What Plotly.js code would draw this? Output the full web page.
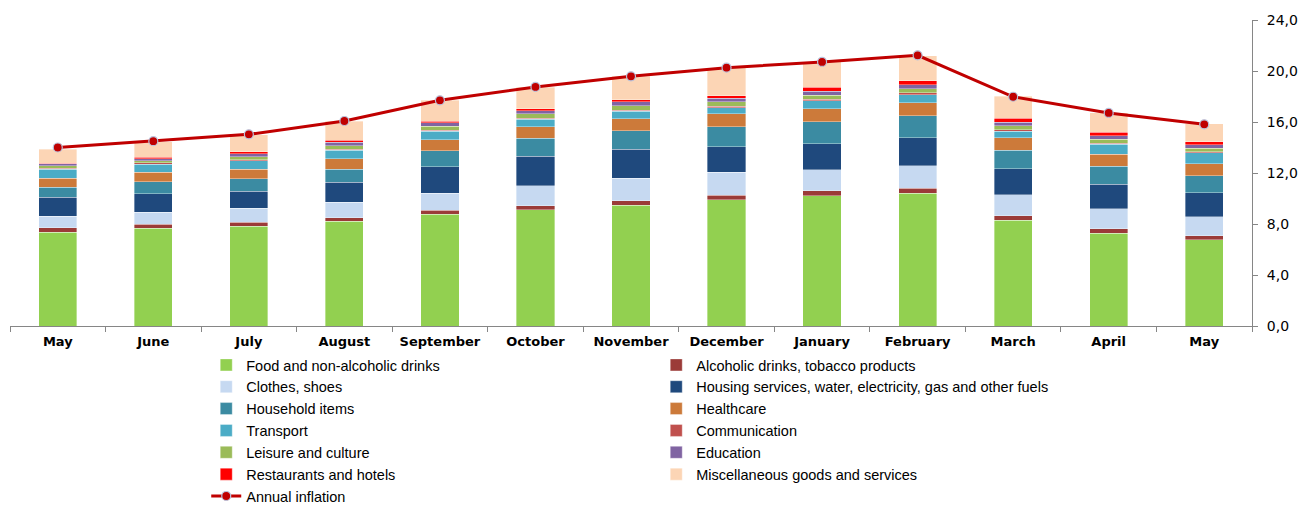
<!DOCTYPE html>
<html>
<head>
<meta charset="utf-8">
<script src="https://cdn.plot.ly/plotly-3.0.1.min.js"></script>
<style>html,body{margin:0;padding:0;background:#fff;}#chart{width:1305px;height:506px;}</style>
</head>
<body>
<div id="chart"></div>
<script>
const months = ["May", "June", "July", "August", "September", "October", "November", "December", "January", "February", "March", "April", "May"];

const food          = [7.37, 7.66, 7.84, 8.21, 8.76, 9.10, 9.49, 9.91, 10.20, 10.40, 8.31, 7.29, 6.75];
const alcohol       = [0.32, 0.31, 0.29, 0.29, 0.31, 0.34, 0.34, 0.36, 0.39, 0.40, 0.32, 0.34, 0.31];
const clothes       = [0.90, 0.97, 1.09, 1.20, 1.36, 1.56, 1.75, 1.78, 1.67, 1.75, 1.67, 1.55, 1.51];
const housing       = [1.50, 1.44, 1.34, 1.57, 2.07, 2.33, 2.28, 1.99, 2.04, 2.22, 2.04, 1.94, 1.88];
const household     = [0.78, 0.94, 0.97, 1.04, 1.25, 1.39, 1.47, 1.59, 1.73, 1.73, 1.44, 1.41, 1.34];
const healthcare    = [0.73, 0.73, 0.78, 0.79, 0.86, 0.89, 0.94, 1.02, 1.02, 1.02, 0.99, 0.94, 0.94];
const transport     = [0.71, 0.65, 0.65, 0.68, 0.68, 0.60, 0.57, 0.47, 0.60, 0.62, 0.50, 0.79, 0.87];
const communication = [0.08, 0.10, 0.08, 0.08, 0.08, 0.08, 0.10, 0.10, 0.13, 0.16, 0.13, 0.08, 0.05];
const leisure       = [0.18, 0.16, 0.24, 0.26, 0.31, 0.34, 0.34, 0.37, 0.31, 0.31, 0.31, 0.31, 0.29];
const education     = [0.16, 0.16, 0.24, 0.31, 0.26, 0.24, 0.29, 0.26, 0.31, 0.31, 0.29, 0.29, 0.29];
const restaurants   = [0.05, 0.13, 0.15, 0.13, 0.13, 0.16, 0.18, 0.21, 0.31, 0.31, 0.29, 0.24, 0.21];
const misc          = [1.09, 1.20, 1.35, 1.49, 1.65, 1.70, 1.85, 2.20, 2.01, 1.98, 1.72, 1.53, 1.41];
const inflation     = [14.0, 14.5, 15.03, 16.08, 17.7, 18.75, 19.58, 20.26, 20.71, 21.23, 17.98, 16.71, 15.82];

const seriesNames = ["Food and non-alcoholic drinks", "Alcoholic drinks, tobacco products", "Clothes, shoes",
  "Housing services, water, electricity, gas and other fuels", "Household items", "Healthcare", "Transport",
  "Communication", "Leisure and culture", "Education", "Restaurants and hotels", "Miscellaneous goods and services"];
const seriesValues = [food, alcohol, clothes, housing, household, healthcare, transport, communication, leisure, education, restaurants, misc];
const seriesColors = ["#92D050", "#9B3B38", "#C6D9F1", "#1F497D", "#3B8BA2", "#CC7A3A", "#4BACC6",
  "#C0504D", "#9BBB59", "#8064A2", "#FF0000", "#FCD5B5"];

const xIdx = months.map((m, i) => i);

const traces = seriesValues.map((vals, k) => ({
  type: "bar",
  name: seriesNames[k],
  x: xIdx,
  y: vals,
  width: 0.4,
  marker: {color: seriesColors[k], line: {color: "rgba(255,255,255,0.6)", width: 0.6}},
  hoverinfo: "name+y"
}));

traces.push({
  type: "scatter",
  mode: "lines+markers",
  name: "Annual inflation",
  x: xIdx,
  y: inflation,
  line: {color: "#C00000", width: 3},
  marker: {color: "#C00000", size: 9, line: {color: "#B9C3DC", width: 1.2}}
});

const boundaries = [];
for (let i = 0; i <= months.length; i++) boundaries.push(i - 0.5);

const layout = {
  width: 1305,
  height: 506,
  margin: {l: 10, r: 53, t: 20, b: 180, autoexpand: false},
  barmode: "stack",
  paper_bgcolor: "#fff",
  plot_bgcolor: "#fff",
  separators: ",.",
  showlegend: true,
  font: {family: "DejaVu Sans, Verdana, sans-serif", color: "#000"},
  xaxis: {
    type: "linear",
    range: [-0.5, 12.5],
    tickmode: "array",
    tickvals: xIdx,
    ticktext: months,
    ticks: "",
    ticklabelstandoff: 3,
    showgrid: false,
    zeroline: false,
    showline: true,
    linecolor: "#868686",
    linewidth: 1,
    automargin: false,
    tickfont: {family: "DejaVu Sans, Verdana, sans-serif", size: 13, weight: "bold", color: "#000"},
    minor: {tickmode: "array", tickvals: boundaries, ticks: "outside", ticklen: 5, tickcolor: "#868686", showgrid: false}
  },
  yaxis: {
    side: "right",
    range: [0, 24],
    tickmode: "linear",
    tick0: 0,
    dtick: 4,
    tickformat: ".1f",
    ticks: "outside",
    ticklen: 5,
    tickcolor: "#868686",
    ticklabelstandoff: 6,
    showgrid: false,
    zeroline: false,
    showline: true,
    linecolor: "#868686",
    linewidth: 1,
    automargin: false,
    tickfont: {family: "DejaVu Sans, Verdana, sans-serif", size: 14, color: "#000"}
  },
  legend: {
    orientation: "h",
    x: 0.158,
    xanchor: "left",
    y: -0.075,
    yanchor: "top",
    entrywidth: 405,
    entrywidthmode: "pixels",
    traceorder: "normal",
    font: {family: "Liberation Sans, Arial, sans-serif", size: 14.5, color: "#000"},
    bgcolor: "rgba(0,0,0,0)"
  }
};

Plotly.newPlot("chart", traces, layout, {displayModeBar: false, staticPlot: true});
</script>
</body>
</html>
